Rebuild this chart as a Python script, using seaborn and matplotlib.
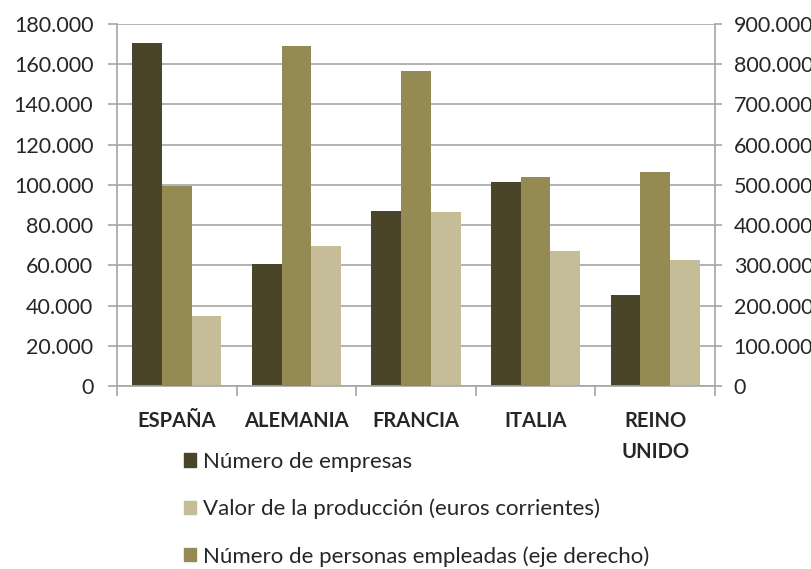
import matplotlib
matplotlib.use("Agg")
import matplotlib.pyplot as plt
import matplotlib.patches as mpatches
from matplotlib.ticker import FuncFormatter, FixedLocator
import seaborn as sns
import pandas as pd

paises = ["ESPAÑA", "ALEMANIA", "FRANCIA", "ITALIA", "REINO\nUNIDO"]
empresas = [170500, 60500, 87200, 101600, 45300]
valor_produccion = [35000, 69600, 86500, 67100, 62800]
personas_empleadas = [497500, 846000, 783000, 520500, 532000]

s_emp = "Número de empresas"
s_val = "Valor de la producción (euros corrientes)"
s_per = "Número de personas empleadas (eje derecho)"
hue_order = [s_emp, s_per, s_val]
colors = {s_emp: "#4a4429", s_per: "#948a54", s_val: "#c4bd97"}

left_rows = []
right_rows = []
for i, p in enumerate(paises):
    left_rows.append({"pais": p, "serie": s_emp, "valor": empresas[i]})
    left_rows.append({"pais": p, "serie": s_per, "valor": 0})
    left_rows.append({"pais": p, "serie": s_val, "valor": valor_produccion[i]})
    right_rows.append({"pais": p, "serie": s_emp, "valor": 0})
    right_rows.append({"pais": p, "serie": s_per, "valor": personas_empleadas[i]})
    right_rows.append({"pais": p, "serie": s_val, "valor": 0})
df_left = pd.DataFrame(left_rows)
df_right = pd.DataFrame(right_rows)

sns.set_style("white")
plt.rcParams["font.family"] = ["Lato", "DejaVu Sans"]

fig = plt.figure(figsize=(8.12, 5.69), dpi=100)
ax = fig.add_axes([117/812, 1-386/569, (715-117)/812, (386-24)/569])
ax2 = ax.twinx()

sns.barplot(data=df_left, x="pais", y="valor", hue="serie", hue_order=hue_order,
            order=paises, palette=colors, width=0.745, linewidth=0, ax=ax,
            legend=False, errorbar=None, saturation=1)
sns.barplot(data=df_right, x="pais", y="valor", hue="serie", hue_order=hue_order,
            order=paises, palette=colors, width=0.745, linewidth=0, ax=ax2,
            legend=False, errorbar=None, saturation=1)

grid_c = "#a6a6a6"
ax.set_xlim(-0.5, 4.5)
ax.set_ylim(0, 180000)
ax2.set_ylim(0, 900000)
ax.set_yticks(range(0, 180001, 20000))
ax2.set_yticks(range(0, 900001, 100000))
fmt = FuncFormatter(lambda v, p: f"{int(v):,}".replace(",", "."))
ax.yaxis.set_major_formatter(fmt)
ax2.yaxis.set_major_formatter(fmt)
ax.yaxis.grid(True, color=grid_c, linewidth=1.2)
ax.set_axisbelow(True)
ax2.grid(False)
ax.set_xlabel("")
ax.set_ylabel("")
ax2.set_ylabel("")

for a in (ax, ax2):
    for s in a.spines.values():
        s.set_visible(False)
ax.spines["left"].set_visible(True)
ax.spines["left"].set_color(grid_c)
ax.spines["bottom"].set_visible(True)
ax.spines["bottom"].set_color(grid_c)
ax2.spines["right"].set_visible(True)
ax2.spines["right"].set_color(grid_c)
for s in ("left", "bottom"):
    ax.spines[s].set_linewidth(1.2)
ax2.spines["right"].set_linewidth(1.2)

ax.tick_params(axis="y", length=6.5, color=grid_c, width=1.2, labelsize=15.5, pad=10.5, left=True)
ax2.tick_params(axis="y", length=5, color=grid_c, width=1.2, labelsize=15.5, pad=8.5, right=True)

ax.set_xticks(range(len(paises)))
ax.set_xticklabels(paises, fontweight="bold", fontsize=14.5, linespacing=1.7, va="top")
ax.tick_params(axis="x", which="major", length=0, pad=18)
ax.xaxis.set_minor_locator(FixedLocator([-0.5, 0.5, 1.5, 2.5, 3.5, 4.5]))
ax.tick_params(axis="x", which="minor", length=7, color=grid_c, width=1.2, bottom=True)

handles = [mpatches.Patch(color=colors[s_emp], label=s_emp),
           mpatches.Patch(color=colors[s_val], label=s_val),
           mpatches.Patch(color=colors[s_per], label=s_per)]
fig.legend(handles=handles, loc="upper left", bbox_to_anchor=(184/812, 1-452/569),
           frameon=False, fontsize=16, handlelength=0.55, handleheight=0.55,
           handletextpad=0.3, labelspacing=1.2, borderpad=0, borderaxespad=0)

fig.savefig("out.png", dpi=100)
